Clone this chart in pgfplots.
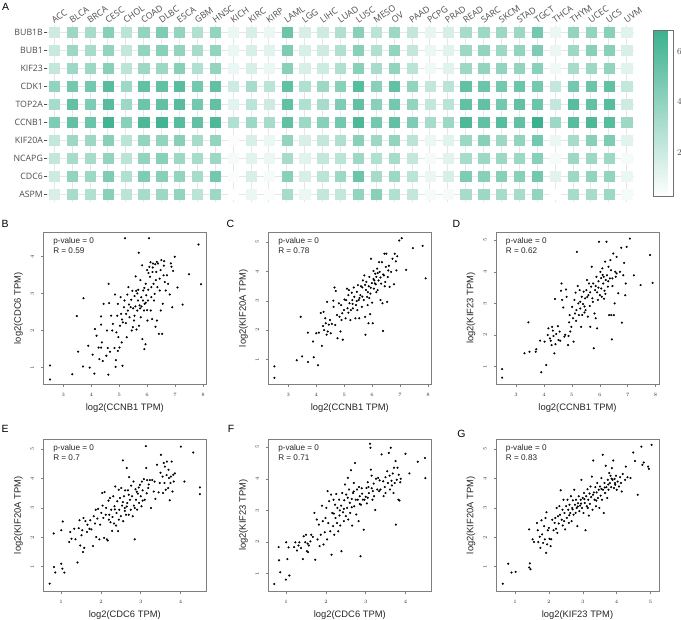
\documentclass[border=0pt]{standalone}
\usepackage{fontspec}
\setmainfont{Liberation Sans}
\newfontfamily\hmfont{Open Sans}
\usepackage{pgfplots}
\usepackage{pgfplotstable}
\pgfplotsset{compat=1.18}
\definecolor{hmtext}{HTML}{4D4D4D}
\definecolor{hmgrid}{HTML}{E6E6E6}
\definecolor{boxgray}{HTML}{7F7F7F}
\definecolor{cbframe}{HTML}{707070}

\pgfplotstableread{
i ca BUB1B BUB1 KIF23 CDK1 TOP2A CCNB1 KIF20A NCAPG CDC6 ASPM
1 ACC 1.89 2.10 2.22 3.88 3.22 4.55 2.22 2.22 1.89 1.56
2 BLCA 3.55 3.55 3.55 4.88 5.54 5.54 3.55 3.22 3.88 3.22
3 BRCA 3.22 3.22 3.55 4.88 4.55 5.21 3.55 3.22 3.55 2.89
4 CESC 4.21 3.88 4.21 5.87 5.87 6.54 4.21 3.88 4.55 4.21
5 CHOL 2.55 2.22 2.55 3.55 3.55 4.21 2.55 2.55 2.89 2.55
6 COAD 3.88 3.88 3.55 5.54 5.21 6.21 3.88 3.88 4.55 3.22
7 DLBC 4.55 4.21 3.55 5.54 5.54 6.54 3.88 4.21 4.21 3.55
8 ESCA 3.88 3.88 4.21 5.87 5.87 5.87 4.21 3.55 3.88 3.88
9 GBM 2.89 3.22 2.89 4.88 4.88 5.54 3.22 3.22 3.22 2.55
10 HNSC 3.88 3.88 3.88 5.54 5.54 6.21 3.88 3.55 4.88 3.55
11 KICH 0.89 0.89 0.89 1.89 1.23 2.89 0.36 0.56 0.36 0.23
12 KIRC 1.56 1.56 1.56 3.22 2.55 3.55 1.56 1.23 1.56 0.89
13 KIRP 0.89 1.23 0.89 2.55 1.89 3.22 0.89 0.89 0.56 0.36
14 LAML 5.21 4.55 4.21 5.54 5.54 5.54 3.88 3.22 4.21 3.22
15 LGG 1.56 1.56 1.56 2.89 2.89 3.55 1.56 1.23 1.56 0.89
16 LIHC 1.89 1.89 1.89 3.55 3.22 4.21 2.22 2.22 2.55 2.22
17 LUAD 2.89 2.89 2.89 4.21 4.55 4.88 2.89 2.55 3.55 2.22
18 LUSC 4.21 4.21 4.21 5.87 5.54 6.21 4.21 3.55 5.21 3.88
19 MESO 2.55 2.89 3.22 4.21 4.21 4.88 3.55 2.89 3.22 4.21
20 OV 3.55 3.88 3.88 5.54 4.88 5.54 3.88 3.22 3.55 2.89
21 PAAD 2.22 2.22 2.55 3.88 3.88 4.55 2.55 2.22 2.55 2.22
22 PCPG 1.03 0.89 0.76 2.22 2.22 3.22 0.89 0.56 0.89 0.56
23 PRAD 1.56 1.23 1.23 2.55 2.55 3.55 1.23 1.23 1.56 0.56
24 READ 3.22 3.55 3.55 5.54 5.54 6.21 3.55 3.22 4.55 3.22
25 SARC 3.55 3.88 3.88 5.21 5.54 5.54 4.21 3.55 4.21 3.55
26 SKCM 3.55 3.55 3.88 4.88 4.88 5.87 3.55 3.55 4.21 3.22
27 STAD 3.55 3.88 3.88 5.21 5.54 5.54 3.88 3.55 4.21 3.22
28 TGCT 4.88 4.55 4.21 4.88 5.21 6.87 4.88 4.21 4.88 3.88
29 THCA 0.89 0.89 0.76 2.22 2.22 3.55 0.89 0.56 1.23 0.23
30 THYM 3.88 3.55 3.22 4.88 5.87 5.87 3.22 3.55 3.55 3.22
31 UCEC 3.88 4.21 3.55 5.21 5.54 6.21 4.21 3.55 3.88 3.22
32 UCS 4.21 4.21 3.88 5.54 5.87 5.87 4.55 3.55 3.88 3.55
33 UVM 1.23 1.56 1.23 2.22 1.89 3.55 1.23 0.56 0.89 0.56
}\hm

\tikzset{ann/.style={anchor=west, inner sep=0pt, font=\fontsize{8.2}{9}\selectfont, text=black!85}}
\pgfplotsset{
  hmcell/.style={scatter, only marks, mark=square*, mark size=5.1bp,
    point meta=explicit,
    mark options={line width=0.3bp},
    scatter/use mapped color={draw=mapped color, fill=mapped color}},
  sc/.style={
    scale only axis, width=163bp, height=152bp,
    axis line style={boxgray, line width=0.6bp},
    tick style={boxgray, line width=0.5bp},
    tick align=outside, major tick length=2.5bp,
    xtick pos=left, ytick pos=left,
    tick label style={font=\fontsize{4.6}{5}\selectfont, text=black!80},
    xticklabel style={anchor=center, yshift=-8bp},
    yticklabel style={anchor=center, xshift=-8.5bp, rotate=90},
    label style={font=\fontsize{9.4}{11}\selectfont, text=black!85},
    xlabel style={at={(axis description cs:0.5,-0.158)}, anchor=center},
    ylabel style={at={(axis description cs:-0.153,0.5)}, anchor=center},
  },
  dots/.style={only marks, mark=*, mark size=0.85bp, mark options={draw=none, fill=black}},
}

\begin{document}
\begin{tikzpicture}
\useasboundingbox (0bp,0bp) rectangle (681bp,620bp);
\fill[white] (0bp,0bp) rectangle (681bp,620bp);

% ---------- A: heatmap ----------
\begin{axis}[
  at={(46.7bp,595.3bp)}, anchor=north west,
  scale only axis, width=587.6bp, height=177.2bp,
  xmin=0.575, xmax=33.425, ymin=0.58, ymax=10.42, y dir=reverse,
  axis line style={draw=none},
  grid=major, grid style={hmgrid, line width=1bp},
  xtick={1,...,33},
  xticklabels={ACC,BLCA,BRCA,CESC,CHOL,COAD,DLBC,ESCA,GBM,HNSC,KICH,KIRC,KIRP,LAML,LGG,LIHC,LUAD,LUSC,MESO,OV,PAAD,PCPG,PRAD,READ,SARC,SKCM,STAD,TGCT,THCA,THYM,UCEC,UCS,UVM},
  ytick={1,...,10},
  yticklabels={BUB1B,BUB1,KIF23,CDK1,TOP2A,CCNB1,KIF20A,NCAPG,CDC6,ASPM},
  xtick pos=right, xticklabel pos=right, ytick pos=left,
  xtick style={draw=none},
  ytick style={draw=hmtext, line width=0.5bp},
  tick align=outside, major tick length=2.6bp,
  tick label style={font=\hmfont\fontsize{8.8}{10}\selectfont, text=hmtext},
  xticklabel style={anchor=base west, inner sep=0pt, yshift=-1.5bp, rotate=35},
  yticklabel style={anchor=east, inner sep=0pt, xshift=-1bp},
  colormap={tealmap}{rgb255=(255,255,255) rgb255=(60,177,143)},
  point meta min=0.23, point meta max=6.87,
  colorbar,
  colorbar style={
    at={(parent axis.north east)}, anchor=north west,
    xshift=10.7bp, yshift=-5.3bp,
    width=20bp, height=166.7bp,
    axis line style={draw=cbframe, line width=0.7bp},
    ytick={2,4,6}, major tick length=0pt,
    yticklabel style={font=\hmfont\fontsize{8.8}{10}\selectfont, text=hmtext, anchor=west, inner sep=0pt, xshift=3.5bp},
  },
]
\addplot[hmcell] table[x=i, y expr=1, meta=BUB1B] {\hm};
\addplot[hmcell] table[x=i, y expr=2, meta=BUB1] {\hm};
\addplot[hmcell] table[x=i, y expr=3, meta=KIF23] {\hm};
\addplot[hmcell] table[x=i, y expr=4, meta=CDK1] {\hm};
\addplot[hmcell] table[x=i, y expr=5, meta=TOP2A] {\hm};
\addplot[hmcell] table[x=i, y expr=6, meta=CCNB1] {\hm};
\addplot[hmcell] table[x=i, y expr=7, meta=KIF20A] {\hm};
\addplot[hmcell] table[x=i, y expr=8, meta=NCAPG] {\hm};
\addplot[hmcell] table[x=i, y expr=9, meta=CDC6] {\hm};
\addplot[hmcell] table[x=i, y expr=10, meta=ASPM] {\hm};
\end{axis}

% ---------- B ----------
\begin{axis}[sc, at={(43.3bp,387.7bp)}, anchor=north west,
  xmin=2.28, xmax=8.12, ymin=0.55, ymax=4.65,
  xtick={3,...,8}, ytick={1,...,4},
  xlabel={log2(CCNB1 TPM)}, ylabel={log2(CDC6 TPM)}]
\addplot[dots] coordinates {(2.52,1.06)(2.52,0.68)(3.32,0.82)(3.72,2.87)(3.48,2.39)(3.53,1.43)(3.70,1.03)(3.89,1.59)(3.94,1.00)(4.05,1.35)(4.11,0.84)(4.13,2.04)(4.19,1.86)(4.26,1.54)(4.29,1.23)(4.35,2.38)(4.35,2.16)(4.35,1.54)(4.38,1.68)(4.41,1.18)(4.44,2.72)(4.54,1.32)(4.56,2.00)(4.59,1.53)(4.61,0.81)(4.62,3.26)(4.64,2.74)(4.67,1.43)(4.71,2.40)(4.77,2.18)(4.83,1.53)(4.85,2.97)(4.87,1.02)(4.88,1.20)(4.90,1.95)(4.93,2.40)(4.95,2.72)(4.97,1.82)(5.01,1.54)(5.03,2.13)(5.07,2.45)(5.09,1.68)(5.12,1.05)(5.13,2.22)(5.17,2.63)(5.19,2.81)(5.21,4.49)(5.24,2.20)(5.25,2.45)(5.27,1.82)(5.29,2.97)(5.31,2.54)(5.33,3.17)(5.37,2.36)(5.41,2.63)(5.43,2.83)(5.45,2.00)(5.47,3.07)(5.49,2.09)(5.53,2.27)(5.55,2.93)(5.58,2.65)(5.59,3.46)(5.61,3.07)(5.62,2.03)(5.65,2.54)(5.67,2.81)(5.68,3.10)(5.70,4.10)(5.71,2.13)(5.73,2.68)(5.76,3.36)(5.77,2.36)(5.79,2.90)(5.82,3.76)(5.83,1.77)(5.85,2.81)(5.86,3.08)(5.89,2.54)(5.90,1.50)(5.91,2.72)(5.94,1.63)(5.95,3.26)(5.97,2.95)(6.00,3.63)(6.01,2.27)(6.03,2.81)(6.04,3.10)(6.07,4.49)(6.08,3.72)(6.10,3.45)(6.12,3.84)(6.13,2.54)(6.15,3.17)(6.18,2.31)(6.19,3.58)(6.21,3.81)(6.23,3.26)(6.25,2.81)(6.27,2.99)(6.29,3.79)(6.31,3.36)(6.33,3.58)(6.35,2.27)(6.37,3.17)(6.39,3.81)(6.42,1.91)(6.45,3.08)(6.48,3.63)(6.49,2.54)(6.51,3.90)(6.54,1.91)(6.56,2.72)(6.59,3.49)(6.61,3.87)(6.63,3.31)(6.67,3.08)(6.71,3.49)(6.75,3.26)(6.81,2.97)(6.85,3.81)(6.87,3.72)(6.90,2.63)(6.93,3.61)(6.99,3.99)(7.09,3.16)(7.27,2.70)(7.50,3.52)(7.84,4.32)(7.93,3.25)(5.50,2.60)(5.80,2.65)(5.95,2.75)(6.05,3.55)(5.65,3.00)(5.35,2.70)(6.20,3.70)(6.30,2.10)(5.10,2.30)(4.95,1.45)(6.60,3.75)(6.45,3.40)(5.75,2.60)(5.55,2.40)(6.15,2.90)(5.05,2.90)(4.75,2.00)(5.90,3.15)(6.35,3.85)(6.00,2.55)};
\node[ann] at (rel axis cs:0.06,0.94) {p-value = 0};
\node[ann] at (rel axis cs:0.06,0.88) {R = 0.59};
\end{axis}

% ---------- C ----------
\begin{axis}[sc, at={(268.3bp,387.7bp)}, anchor=north west,
  xmin=2.28, xmax=8.12, ymin=0.16, ymax=5.34,
  xtick={3,...,8}, ytick={1,...,5},
  xlabel={log2(CCNB1 TPM)}, ylabel={log2(KIF20A TPM)}]
\addplot[dots] coordinates {(2.50,0.77)(2.50,0.38)(3.30,0.98)(3.44,2.46)(3.49,1.11)(3.70,1.92)(3.70,0.92)(3.88,1.62)(3.91,1.08)(4.00,1.90)(4.06,0.81)(4.09,1.92)(4.16,2.59)(4.20,1.47)(4.24,2.15)(4.26,2.63)(4.28,2.01)(4.32,2.41)(4.34,2.24)(4.37,1.85)(4.39,2.97)(4.41,1.96)(4.45,2.19)(4.49,2.35)(4.52,1.90)(4.56,2.22)(4.61,3.01)(4.62,2.80)(4.65,3.46)(4.68,2.18)(4.70,3.34)(4.74,2.52)(4.76,1.73)(4.81,2.92)(4.83,2.46)(4.87,1.96)(4.89,2.86)(4.93,2.58)(4.95,1.68)(4.99,2.69)(5.01,3.05)(5.05,2.41)(5.07,3.03)(5.10,3.42)(5.12,2.75)(5.15,3.20)(5.17,3.37)(5.19,2.92)(5.22,2.35)(5.24,2.69)(5.27,3.28)(5.29,3.03)(5.31,2.75)(5.34,3.46)(5.36,3.14)(5.40,2.41)(5.42,2.86)(5.45,3.31)(5.47,2.69)(5.49,3.54)(5.52,3.03)(5.54,2.41)(5.58,3.20)(5.60,3.50)(5.63,2.80)(5.65,3.46)(5.67,3.70)(5.70,3.03)(5.72,3.87)(5.75,2.46)(5.76,1.85)(5.78,3.37)(5.79,3.65)(5.82,3.14)(5.84,2.86)(5.87,2.24)(5.88,3.50)(5.90,3.82)(5.93,2.55)(5.94,3.25)(5.96,4.44)(5.99,3.61)(6.00,2.94)(6.02,2.24)(6.05,4.02)(6.06,3.42)(6.08,3.70)(6.11,3.93)(6.13,3.57)(6.15,3.82)(6.18,4.10)(6.20,3.37)(6.23,3.70)(6.25,4.32)(6.27,3.99)(6.30,3.03)(6.32,3.59)(6.35,4.32)(6.37,2.92)(6.39,1.98)(6.42,3.87)(6.44,4.61)(6.47,3.65)(6.49,4.16)(6.51,4.61)(6.54,2.97)(6.56,3.82)(6.58,4.04)(6.63,3.48)(6.68,3.99)(6.73,4.44)(6.78,3.57)(6.81,4.61)(6.85,4.35)(6.87,4.04)(6.90,4.52)(6.97,5.06)(7.06,5.14)(7.22,4.06)(7.46,4.80)(7.81,4.88)(7.92,3.77)(5.55,3.10)(5.85,3.30)(6.10,3.60)(5.30,2.90)(6.40,3.90)(5.95,3.45)(5.65,3.15)(6.20,3.95)(5.15,2.60)(6.60,4.20)(5.75,3.55)(6.05,3.75)(5.45,3.00)(6.30,3.80)(4.90,2.35)(6.15,3.30)(5.90,3.10)(6.45,3.50)};
\node[ann] at (rel axis cs:0.06,0.94) {p-value = 0};
\node[ann] at (rel axis cs:0.06,0.88) {R = 0.78};
\end{axis}

% ---------- D ----------
\begin{axis}[sc, at={(496bp,387.7bp)}, anchor=north west,
  xmin=2.28, xmax=8.12, ymin=0.44, ymax=5.25,
  xtick={3,...,8}, ytick={1,...,5},
  xlabel={log2(CCNB1 TPM)}, ylabel={log2(KIF23 TPM)}]
\addplot[dots] coordinates {(2.50,0.92)(2.50,0.65)(3.30,1.42)(3.44,2.40)(3.48,1.47)(3.70,1.47)(3.72,1.55)(3.86,1.82)(3.90,0.82)(4.02,1.79)(4.08,1.05)(4.13,2.00)(4.16,2.21)(4.21,1.89)(4.24,1.82)(4.27,1.68)(4.29,2.26)(4.32,2.14)(4.34,1.97)(4.37,1.42)(4.39,3.14)(4.41,1.71)(4.44,2.03)(4.50,2.28)(4.52,1.84)(4.56,2.11)(4.58,1.82)(4.61,3.40)(4.63,3.63)(4.65,3.11)(4.69,2.87)(4.73,1.95)(4.76,2.01)(4.79,3.44)(4.81,3.21)(4.86,1.68)(4.88,1.97)(4.92,2.63)(4.94,2.11)(4.98,2.26)(5.01,2.89)(5.04,2.53)(5.06,1.79)(5.09,3.11)(5.11,2.68)(5.13,3.34)(5.16,2.79)(5.18,4.63)(5.21,3.55)(5.23,3.00)(5.25,2.63)(5.28,3.42)(5.30,2.84)(5.33,2.26)(5.35,3.21)(5.37,2.63)(5.40,2.98)(5.42,3.37)(5.45,2.71)(5.47,3.16)(5.49,2.79)(5.52,3.42)(5.54,3.74)(5.57,2.58)(5.59,3.26)(5.61,3.63)(5.64,2.92)(5.66,2.26)(5.69,3.53)(5.71,4.16)(5.73,3.16)(5.76,3.63)(5.78,1.58)(5.81,2.68)(5.83,3.42)(5.85,2.53)(5.88,3.84)(5.90,2.21)(5.93,3.11)(5.95,3.50)(5.97,4.95)(6.00,3.26)(6.02,4.00)(6.05,3.47)(6.07,3.21)(6.09,4.11)(6.12,3.63)(6.14,3.84)(6.17,3.40)(6.19,4.32)(6.21,3.74)(6.24,4.95)(6.26,3.89)(6.29,3.53)(6.31,4.16)(6.33,2.63)(6.36,3.79)(6.38,4.37)(6.41,2.63)(6.43,1.86)(6.45,3.79)(6.48,4.58)(6.50,2.63)(6.53,3.00)(6.55,4.00)(6.57,3.84)(6.60,4.47)(6.66,3.32)(6.72,4.00)(6.77,4.76)(6.79,2.39)(6.84,3.89)(6.87,4.28)(6.91,3.26)(6.93,3.63)(6.96,4.79)(7.08,5.05)(7.22,3.89)(7.46,3.58)(7.80,4.53)(7.89,3.65)(5.55,3.20)(5.85,3.55)(6.10,3.90)(5.30,3.05)(6.40,4.05)(5.95,3.70)(5.65,3.35)(6.20,3.30)(5.15,2.45)(6.60,3.95)(5.75,3.05)(6.05,3.80)(5.45,2.90)(6.30,3.70)(4.90,2.40)(6.15,3.15)(5.90,3.35)(6.45,3.55)};
\node[ann] at (rel axis cs:0.06,0.94) {p-value = 0};
\node[ann] at (rel axis cs:0.06,0.88) {R = 0.62};
\end{axis}

% ---------- E ----------
\begin{axis}[sc, at={(43.3bp,180.7bp)}, anchor=north west,
  xmin=0.55, xmax=4.65, ymin=0.16, ymax=5.34,
  xtick={1,...,4}, ytick={1,...,5},
  xlabel={log2(CDC6 TPM)}, ylabel={log2(KIF20A TPM)}]
\addplot[dots] coordinates {(0.71,0.42)(0.81,2.13)(0.82,0.99)(0.85,0.80)(1.00,1.10)(1.00,2.24)(1.03,0.93)(1.04,2.54)(1.08,0.80)(1.20,1.84)(1.23,2.18)(1.26,1.95)(1.33,2.29)(1.36,1.93)(1.41,1.14)(1.44,2.31)(1.46,2.58)(1.48,1.72)(1.51,2.07)(1.53,2.24)(1.55,1.50)(1.56,2.66)(1.58,1.64)(1.61,2.55)(1.65,2.18)(1.66,2.43)(1.71,2.29)(1.73,2.58)(1.76,2.27)(1.80,1.70)(1.82,2.72)(1.85,2.47)(1.87,2.94)(1.88,2.01)(1.91,2.64)(1.93,2.97)(1.96,1.93)(1.98,2.43)(2.01,2.83)(2.03,3.51)(2.04,3.08)(2.06,2.66)(2.08,1.98)(2.09,3.54)(2.12,2.77)(2.13,3.00)(2.15,1.93)(2.17,1.89)(2.19,3.25)(2.21,2.77)(2.23,3.34)(2.24,2.51)(2.26,2.94)(2.28,2.22)(2.29,2.69)(2.31,3.40)(2.33,2.47)(2.34,3.06)(2.36,3.73)(2.38,2.40)(2.39,2.83)(2.41,3.23)(2.43,2.21)(2.45,3.62)(2.46,2.94)(2.48,3.34)(2.50,2.72)(2.51,3.68)(2.53,3.08)(2.55,4.62)(2.56,2.55)(2.58,3.40)(2.60,3.00)(2.61,3.60)(2.63,2.77)(2.65,4.36)(2.66,3.17)(2.68,3.60)(2.70,2.77)(2.71,4.05)(2.73,3.28)(2.75,2.94)(2.76,3.76)(2.78,3.40)(2.80,2.72)(2.82,3.90)(2.83,3.08)(2.85,1.93)(2.87,3.64)(2.88,3.28)(2.91,2.94)(2.93,3.49)(2.96,3.17)(2.98,3.79)(3.00,3.40)(3.02,3.06)(3.03,3.90)(3.05,3.60)(3.08,3.98)(3.10,3.28)(3.13,5.11)(3.14,4.36)(3.16,3.95)(3.19,3.68)(3.23,3.95)(3.26,3.00)(3.29,3.95)(3.33,3.56)(3.37,3.31)(3.41,4.47)(3.45,3.53)(3.48,3.85)(3.51,4.81)(3.55,4.07)(3.56,3.51)(3.58,4.53)(3.60,3.85)(3.61,4.41)(3.63,3.62)(3.65,4.12)(3.66,4.58)(3.69,3.68)(3.71,4.02)(3.73,3.26)(3.75,3.85)(3.76,4.07)(3.78,4.58)(3.80,3.56)(3.82,4.13)(3.83,3.90)(3.86,4.18)(4.01,5.09)(4.10,3.90)(4.32,4.89)(4.49,3.70)(4.49,3.47)(2.55,3.20)(2.70,3.45)(2.90,3.55)(3.05,3.25)(2.35,2.95)(3.20,3.80)(2.45,2.60)(2.85,3.00)(3.35,3.90)(2.65,3.05)(3.15,3.50)(2.20,2.60)(3.50,4.20)(2.95,3.70)(2.60,2.90)(3.70,4.30)};
\node[ann] at (rel axis cs:0.06,0.94) {p-value = 0};
\node[ann] at (rel axis cs:0.06,0.88) {R = 0.7};
\end{axis}

% ---------- F ----------
\begin{axis}[sc, at={(268.3bp,180.7bp)}, anchor=north west,
  xmin=0.55, xmax=4.65, ymin=0.44, ymax=5.25,
  xtick={1,...,4}, ytick={1,...,5},
  xlabel={log2(CDC6 TPM)}, ylabel={log2(KIF23 TPM)}]
\addplot[dots] coordinates {(0.70,0.67)(0.81,1.84)(0.82,1.42)(0.85,1.04)(0.99,0.81)(1.00,1.99)(1.03,1.46)(1.06,1.83)(1.08,0.94)(1.20,1.84)(1.23,1.99)(1.27,1.73)(1.31,1.89)(1.33,1.99)(1.37,1.81)(1.42,1.46)(1.44,2.18)(1.48,1.99)(1.50,2.23)(1.52,1.71)(1.54,1.95)(1.55,1.68)(1.57,1.89)(1.61,2.02)(1.63,2.23)(1.67,2.16)(1.71,2.92)(1.73,1.44)(1.77,2.71)(1.79,2.08)(1.82,2.55)(1.84,1.87)(1.87,2.23)(1.90,3.15)(1.92,2.66)(1.94,1.92)(1.97,2.31)(1.99,2.76)(2.01,3.08)(2.03,2.08)(2.04,3.61)(2.06,2.60)(2.08,3.29)(2.11,2.34)(2.13,3.50)(2.14,1.60)(2.16,2.92)(2.18,2.50)(2.19,3.34)(2.21,2.23)(2.23,3.18)(2.24,2.76)(2.26,3.52)(2.28,2.60)(2.29,3.08)(2.31,2.34)(2.33,3.34)(2.34,2.84)(2.36,2.52)(2.38,3.15)(2.39,1.71)(2.41,3.55)(2.43,2.94)(2.45,2.66)(2.46,3.32)(2.48,3.82)(2.50,2.82)(2.51,3.50)(2.53,3.08)(2.55,4.03)(2.56,2.71)(2.58,3.66)(2.60,3.24)(2.61,2.92)(2.63,4.27)(2.65,3.36)(2.66,2.52)(2.68,3.55)(2.70,3.87)(2.71,3.13)(2.73,4.50)(2.75,3.34)(2.76,2.87)(2.78,3.66)(2.80,3.34)(2.82,2.66)(2.83,3.74)(2.85,3.45)(2.87,1.55)(2.88,3.18)(2.91,3.53)(2.93,3.34)(2.95,2.39)(2.97,3.34)(3.00,3.43)(3.02,3.71)(3.03,3.22)(3.05,3.89)(3.07,3.74)(3.08,3.55)(3.11,5.11)(3.12,4.98)(3.13,4.29)(3.15,4.10)(3.17,3.34)(3.18,3.61)(3.21,3.45)(3.24,3.01)(3.26,4.00)(3.29,3.66)(3.31,4.03)(3.34,3.61)(3.37,3.66)(3.40,4.77)(3.44,3.92)(3.45,3.45)(3.48,3.74)(3.50,3.55)(3.54,4.24)(3.56,3.87)(3.58,4.82)(3.60,4.10)(3.61,3.66)(3.63,4.98)(3.65,3.94)(3.66,3.79)(3.68,4.17)(3.70,3.55)(3.71,4.35)(3.73,3.87)(3.75,4.56)(3.76,2.55)(3.78,3.97)(3.80,4.35)(3.82,3.34)(3.83,4.13)(3.85,3.31)(3.87,3.89)(3.88,4.00)(4.00,4.79)(4.10,4.17)(4.31,4.54)(4.49,4.66)(4.50,4.02)(2.55,3.40)(2.70,3.60)(2.90,3.70)(3.05,3.40)(2.35,3.00)(3.20,3.85)(2.45,3.05)(2.85,3.20)(3.35,3.95)(2.65,3.10)(3.15,3.70)(2.20,2.90)(3.50,4.05)};
\node[ann] at (rel axis cs:0.06,0.94) {p-value = 0};
\node[ann] at (rel axis cs:0.06,0.88) {R = 0.71};
\end{axis}

% ---------- G ----------
\begin{axis}[sc, at={(496bp,180.7bp)}, anchor=north west,
  xmin=0.44, xmax=5.25, ymin=0.16, ymax=5.34,
  xtick={1,...,5}, ytick={1,...,5},
  xlabel={log2(KIF23 TPM)}, ylabel={log2(KIF20A TPM)}]
\addplot[dots] coordinates {(0.64,0.42)(0.80,1.10)(0.90,0.80)(1.02,0.82)(1.42,2.27)(1.42,0.97)(1.44,1.11)(1.46,0.91)(1.52,1.93)(1.56,1.84)(1.65,2.49)(1.67,2.24)(1.69,1.84)(1.73,2.02)(1.75,1.64)(1.78,2.58)(1.80,2.10)(1.83,1.81)(1.86,2.38)(1.88,1.93)(1.90,2.66)(1.92,1.47)(1.93,2.85)(1.95,1.76)(1.97,2.24)(2.00,2.32)(2.02,1.95)(2.05,1.70)(2.07,1.93)(2.10,2.60)(2.14,2.24)(2.17,2.49)(2.19,2.66)(2.21,2.29)(2.23,3.00)(2.25,2.15)(2.27,2.72)(2.29,2.47)(2.31,3.06)(2.33,2.77)(2.35,3.60)(2.38,2.60)(2.40,2.94)(2.41,2.40)(2.43,3.28)(2.46,2.83)(2.48,2.27)(2.51,3.06)(2.53,2.66)(2.55,3.28)(2.57,2.94)(2.59,2.49)(2.61,3.11)(2.63,2.83)(2.65,3.40)(2.67,2.55)(2.69,3.00)(2.71,3.26)(2.73,2.77)(2.75,3.62)(2.77,3.11)(2.79,2.83)(2.80,3.28)(2.82,3.00)(2.84,2.38)(2.86,3.16)(2.88,3.40)(2.90,2.89)(2.92,3.08)(2.94,3.28)(2.96,3.96)(2.98,3.00)(3.00,3.34)(3.02,2.83)(3.04,3.51)(3.06,3.17)(3.08,2.24)(3.10,3.40)(3.12,3.06)(3.14,3.64)(3.16,3.28)(3.18,2.74)(3.20,3.49)(3.21,3.14)(3.23,3.73)(3.25,3.37)(3.27,4.07)(3.29,2.94)(3.31,4.62)(3.33,3.53)(3.35,3.28)(3.37,3.71)(3.39,3.06)(3.41,3.53)(3.43,3.85)(3.45,3.34)(3.47,3.62)(3.49,3.00)(3.51,3.73)(3.53,3.42)(3.55,4.02)(3.57,3.28)(3.59,4.81)(3.60,3.62)(3.62,2.83)(3.64,3.85)(3.66,3.51)(3.68,4.44)(3.70,3.71)(3.72,3.34)(3.74,3.96)(3.76,3.62)(3.78,4.19)(3.80,3.85)(3.82,4.10)(3.84,3.71)(3.86,4.36)(3.88,3.96)(3.90,4.62)(3.92,3.68)(3.94,3.99)(3.96,3.79)(3.98,4.10)(4.00,3.62)(4.03,3.90)(4.07,3.73)(4.10,4.05)(4.13,3.85)(4.15,3.56)(4.18,4.16)(4.25,3.96)(4.27,4.41)(4.32,4.05)(4.41,4.02)(4.49,4.89)(4.54,4.60)(4.62,3.45)(4.73,5.09)(4.76,4.47)(4.80,4.55)(4.93,4.41)(4.95,4.33)(5.03,5.15)(2.60,2.75)(2.85,3.05)(3.05,3.30)(3.30,3.45)(3.55,3.65)(3.75,3.80)(3.95,3.85)(2.45,2.55)(3.15,3.00)(3.40,3.25)(3.65,3.70)(2.95,3.15)(3.85,4.00)(2.70,2.95)};
\node[ann] at (rel axis cs:0.06,0.94) {p-value = 0};
\node[ann] at (rel axis cs:0.06,0.88) {R = 0.83};
\end{axis}

% panel letters
\node[font=\fontsize{10.5}{12}\selectfont] at (5.5bp,613bp) {A};
\node[font=\fontsize{10.5}{12}\selectfont] at (5bp,396.5bp) {B};
\node[font=\fontsize{10.5}{12}\selectfont] at (230.5bp,396.5bp) {C};
\node[font=\fontsize{10.5}{12}\selectfont] at (456.5bp,396.5bp) {D};
\node[font=\fontsize{10.5}{12}\selectfont] at (5bp,191.5bp) {E};
\node[font=\fontsize{10.5}{12}\selectfont] at (231bp,191.5bp) {F};
\node[font=\fontsize{10.5}{12}\selectfont] at (461.5bp,186.5bp) {G};
\end{tikzpicture}
\end{document}
